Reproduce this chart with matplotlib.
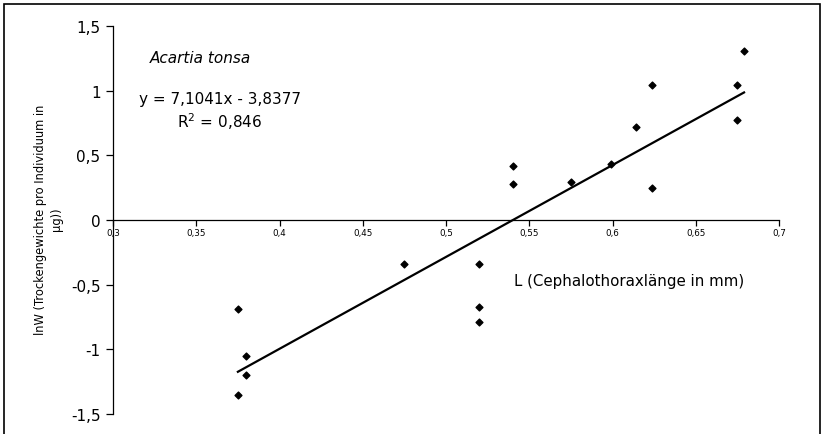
import matplotlib.pyplot as plt
from matplotlib.patches import Rectangle
import numpy as np

# Cephalothoraxlaenge (mm) und lnW
laenge = [0.375, 0.375, 0.380, 0.380, 0.475, 0.520, 0.520, 0.520,
          0.540, 0.540, 0.575, 0.599, 0.614, 0.624, 0.624, 0.675,
          0.675, 0.679]
ln_w = [-0.69, -1.35, -1.05, -1.20, -0.34, -0.34, -0.675, -0.785,
        0.42, 0.28, 0.29, 0.43, 0.72, 1.045, 0.25, 1.045,
        0.775, 1.31]

steigung = 7.1041
achsenabschnitt = -3.8377

x_ticks = [0.3, 0.35, 0.4, 0.45, 0.5, 0.55, 0.6, 0.65, 0.7]
x_labels = ['0,3', '0,35', '0,4', '0,45', '0,5', '0,55', '0,6', '0,65', '0,7']
y_ticks = [-1.5, -1, -0.5, 0, 0.5, 1, 1.5]
y_labels = ['-1,5', '-1', '-0,5', '0', '0,5', '1', '1,5']

plt.rcParams['font.family'] = ['DejaVu Sans']

fig = plt.figure(figsize=(8.22, 4.35), dpi=100)
ax = fig.add_axes([0.1375, 0.046, 0.8102, 0.892])

ax.scatter(laenge, ln_w, marker='D', s=12, color='black', zorder=3)

xl = np.array([min(laenge), max(laenge)])
ax.plot(xl, steigung * xl + achsenabschnitt, color='black', linewidth=1.6)

ax.set_xlim(0.3, 0.7)
ax.set_ylim(-1.5, 1.5)
ax.spines['top'].set_visible(False)
ax.spines['right'].set_visible(False)
ax.spines['bottom'].set_position(('data', 0))
ax.spines['left'].set_linewidth(0.9)
ax.spines['bottom'].set_linewidth(0.9)

ax.set_xticks(x_ticks)
ax.set_xticklabels(x_labels, fontsize=6.3)
ax.set_yticks(y_ticks)
ax.set_yticklabels(y_labels, fontsize=11)
ax.tick_params(axis='x', direction='out', length=4, width=0.9, pad=2)
ax.tick_params(axis='y', direction='out', length=5, width=0.9, pad=4)

ax.text(0.3222, 1.22, 'Acartia tonsa', style='italic', fontsize=11)
ax.text(0.364, 1.0, 'y = 7,1041x - 3,8377\nR$^2$ = 0,846', fontsize=11,
        ha='center', va='top', multialignment='center', linespacing=1.3)
ax.text(0.541, -0.465, 'L (Cephalothoraxlänge in mm)', fontsize=10.8,
        va='center')

fig.text(0.059, 0.495, 'lnW (Trockengewichte pro Individuum in\nµg))',
         rotation=90, fontsize=8.3, ha='center', va='center',
         multialignment='center', linespacing=1.25)

fig.patches.append(Rectangle((4 / 822, -0.05), 816 / 822, 1.0385,
                             transform=fig.transFigure, fill=False,
                             edgecolor='black', linewidth=1.2))

fig.savefig('out.png', dpi=100)
